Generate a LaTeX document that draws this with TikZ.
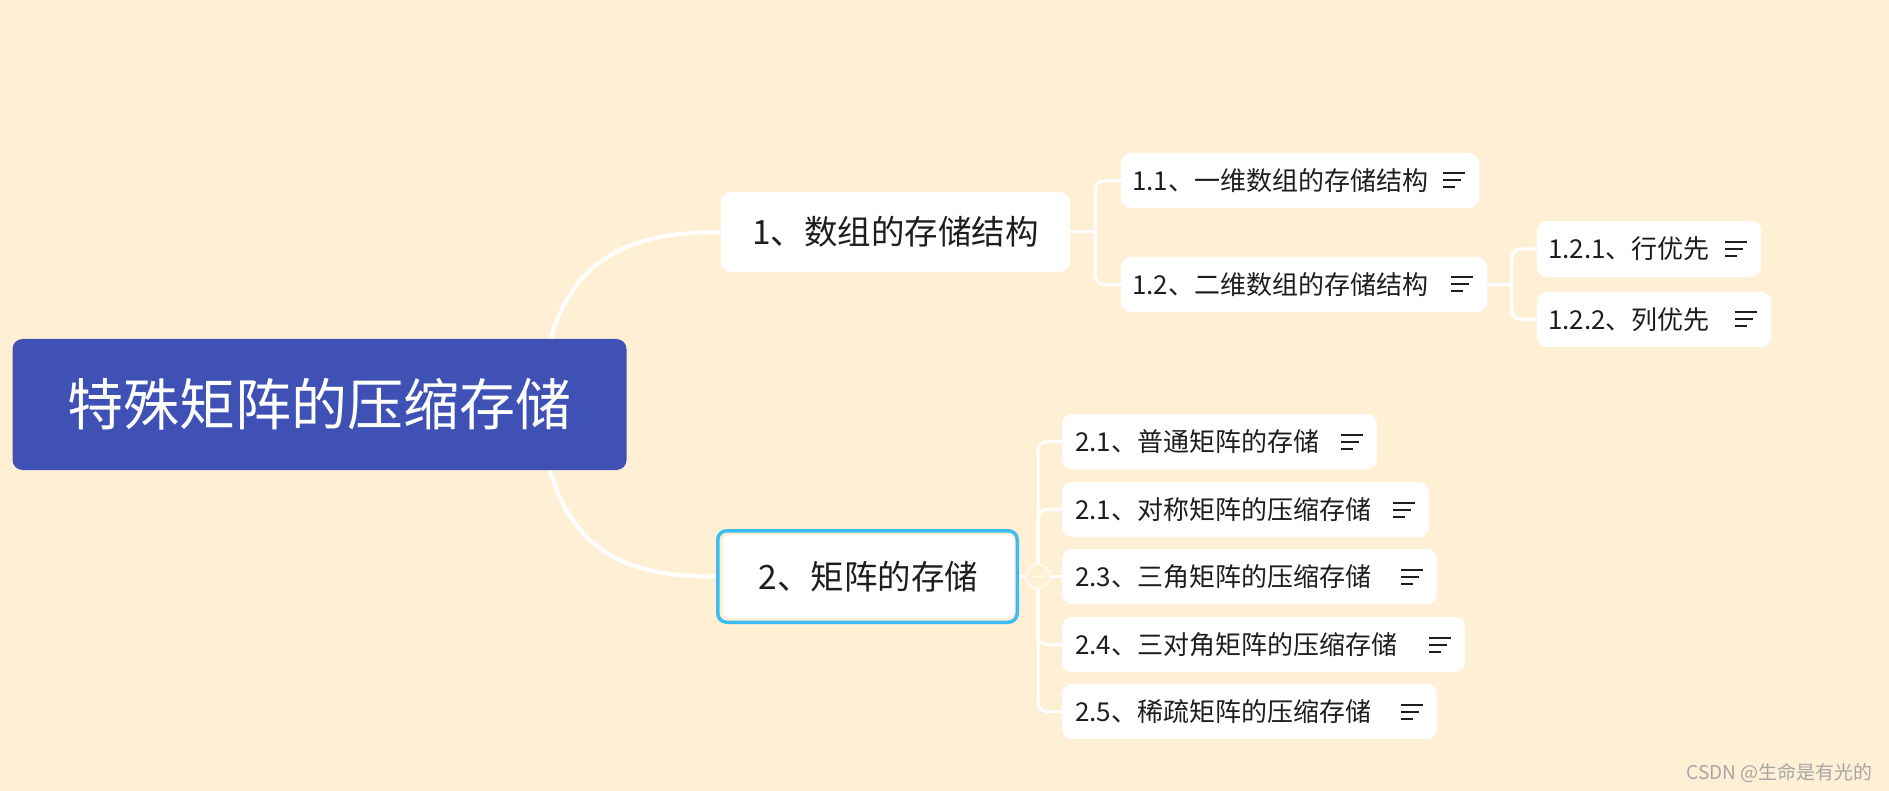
\documentclass[tikz,border=0pt]{standalone}
\usepackage{fontspec}
\setmainfont{Noto Sans CJK SC}
\usetikzlibrary{calc}
\definecolor{bgc}{HTML}{FFEFD5}
\definecolor{rootc}{HTML}{3F51B5}
\definecolor{selc}{HTML}{3BBDF2}
\definecolor{txt}{HTML}{1E1E1E}
\pgfdeclarelayer{bg}
\pgfdeclarelayer{conn}
\pgfsetlayers{bg,conn,main}
\newcommand\noteicon[1]{%
  \draw[iconline] ([xshift=-36pt,yshift=7pt]#1.east) -- ++(22,0);
  \draw[iconline] ([xshift=-36pt]#1.east) -- ++(18,0);
  \draw[iconline] ([xshift=-36pt,yshift=-7pt]#1.east) -- ++(12,0);}
\begin{document}
\begin{tikzpicture}[x=1pt,y=-1pt,
  rootbox/.style={fill=rootc, rounded corners=10pt, minimum width=614pt, minimum height=131pt, inner sep=0pt, text=white, font=\fontsize{56}{60}\selectfont},
  mainbox/.style={fill=white, rounded corners=10pt, minimum height=80pt, inner sep=0pt, text=txt, font=\fontsize{33.5}{38}\selectfont},
  subbox/.style={fill=white, rounded corners=10pt, minimum height=55pt, inner sep=0pt},
  subtext/.style={anchor=west, inner sep=0pt, text=txt, font=\fontsize{26}{30}\selectfont},
  bigconn/.style={draw=white, line width=4pt},
  linkline/.style={draw=white, line width=3pt, rounded corners=9pt},
  iconline/.style={draw=txt, line width=2pt},
]
\useasboundingbox (0,0) rectangle (1889,791);
\begin{pgfonlayer}{bg}
  \fill[bgc] (0,0) rectangle (1889,791);
\end{pgfonlayer}

% root
\node[rootbox] (root) at (319.5,404.5) {特殊矩阵的压缩存储};

% level 1
\node[mainbox, minimum width=349pt] (A) at (895.5,232) {1、数组的存储结构};
\node[draw=selc, line width=3.5pt, fill=bgc, rounded corners=9pt, minimum width=299.5pt, minimum height=91.5pt, inner sep=0pt] (B) at (867.5,576.5) {};
\node[mainbox, minimum width=291pt, minimum height=83pt, rounded corners=7pt] (Bin) at (868.5,576.5) {2、矩阵的存储};

% level 2 under A
\node[subbox, minimum width=358pt] (n11) at (1300,180.5) {};
\node[subtext] at ([xshift=11pt]n11.west) {1.1、一维数组的存储结构};
\noteicon{n11}
\node[subbox, minimum width=366pt] (n12) at (1304,284.5) {};
\node[subtext] at ([xshift=11pt]n12.west) {1.2、二维数组的存储结构};
\noteicon{n12}
\node[subbox, minimum width=224pt, minimum height=56pt] (n121) at (1649,249) {};
\node[subtext] at ([xshift=11pt]n121.west) {1.2.1、行优先};
\noteicon{n121}
\node[subbox, minimum width=234pt] (n122) at (1654,319.5) {};
\node[subtext] at ([xshift=11pt]n122.west) {1.2.2、列优先};
\noteicon{n122}

% level 2 under B
\node[subbox, minimum width=315pt] (n21) at (1219.5,441.5) {};
\node[subtext] at ([xshift=13pt]n21.west) {2.1、普通矩阵的存储};
\noteicon{n21}
\node[subbox, minimum width=367pt] (n22) at (1245.5,509.5) {};
\node[subtext] at ([xshift=13pt]n22.west) {2.1、对称矩阵的压缩存储};
\noteicon{n22}
\node[subbox, minimum width=375pt] (n23) at (1249.5,576.5) {};
\node[subtext] at ([xshift=13pt]n23.west) {2.3、三角矩阵的压缩存储};
\noteicon{n23}
\node[subbox, minimum width=403pt] (n24) at (1263.5,644.5) {};
\node[subtext] at ([xshift=13pt]n24.west) {2.4、三对角矩阵的压缩存储};
\noteicon{n24}
\node[subbox, minimum width=375pt] (n25) at (1249.5,711.5) {};
\node[subtext] at ([xshift=13pt]n25.west) {2.5、稀疏矩阵的压缩存储};
\noteicon{n25}

% connectors
\coordinate (jA) at ($(A.east)+(25,0)$);
\coordinate (j12) at ($(n12.east)+(24.5,0)$);
\coordinate (jB) at ($(B.east)+(19,0)$);
\begin{pgfonlayer}{conn}
  \draw[bigconn] ([xshift=220pt]root.center) .. controls +(10,-150) and +(-90,0) .. (A.west);
  \draw[bigconn] ([xshift=220pt]root.center) .. controls +(10,150) and +(-90,0) .. (B.west);
  \draw[linkline] (A.east) -- (jA);
  \draw[linkline] (jA) |- (n11.west);
  \draw[linkline] (jA) |- (n12.west);
  \draw[linkline] (n12.east) -- (j12);
  \draw[linkline] (j12) |- (n121.west);
  \draw[linkline] (j12) |- (n122.west);
  \draw[linkline] (B.east) -- (jB);
  \draw[linkline] (jB) |- (n21.west);
  \draw[linkline] (jB) |- (n22.west);
  \draw[linkline] (jB) -- (n23.west);
  \draw[linkline] (jB) |- (n24.west);
  \draw[linkline] (jB) |- (n25.west);
\end{pgfonlayer}
\node[circle, draw=white!75!bgc, line width=1.5pt, fill=bgc, minimum size=24pt, inner sep=0pt] (knob) at (jB) {};
\draw[white!60!bgc, line width=1.5pt] ([xshift=-7pt]knob.center) -- ([xshift=7pt]knob.center);

% watermark
\node[anchor=east, inner sep=0pt, text=gray!70, font=\fontsize{19}{22}\selectfont] (wm) at (1873,773) {CSDN @生命是有光的};
\end{tikzpicture}
\end{document}
